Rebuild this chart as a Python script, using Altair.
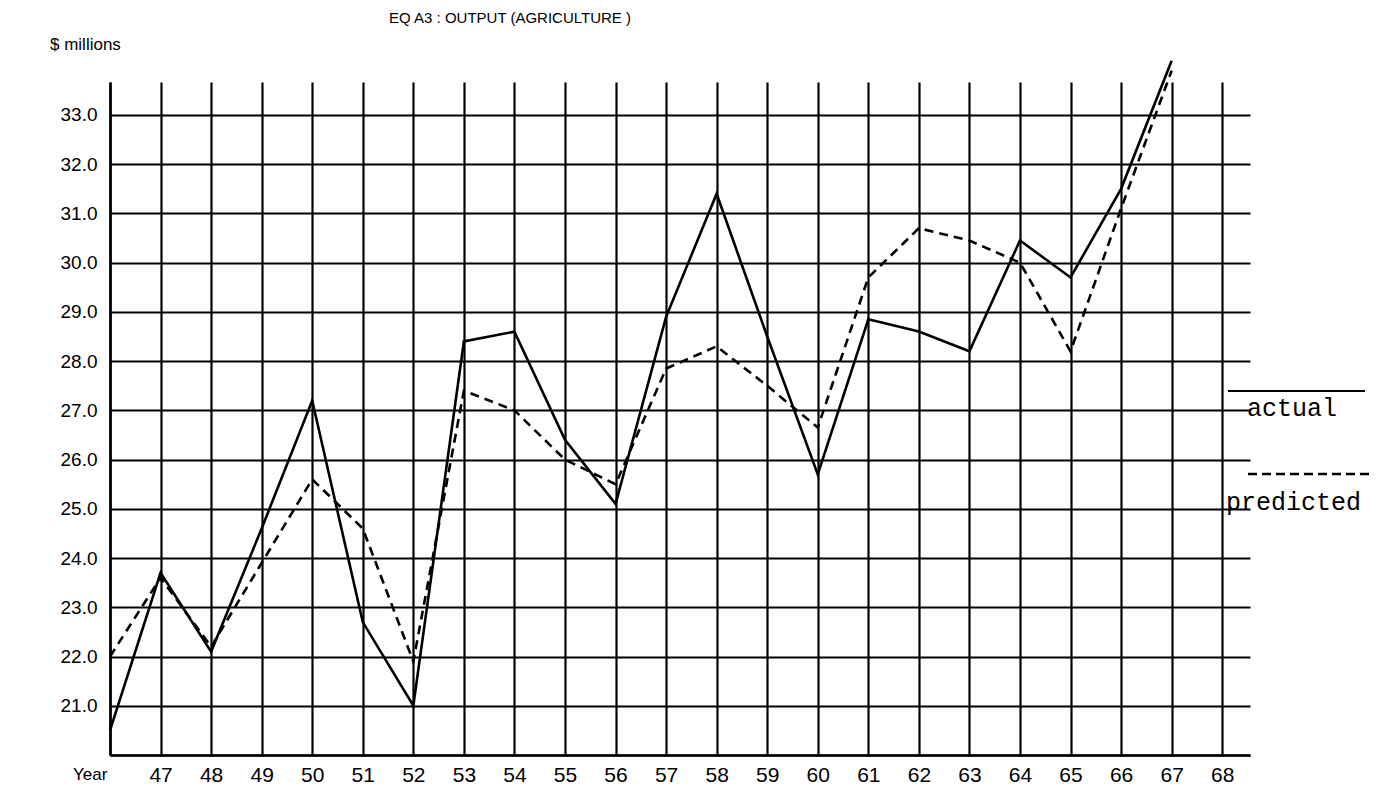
import altair as alt
import pandas as pd

# ---- data ----
years = list(range(46, 68))
actual = [20.5, 23.7, 22.1, 24.6, 27.2, 22.7, 21.0, 28.4, 28.6, 26.4, 25.1,
          28.9, 31.4, 28.5, 25.7, 28.85, 28.6, 28.2, 30.45, 29.7, 31.5, 34.1]
predicted = [22.0, 23.6, 22.2, 23.9, 25.6, 24.6, 21.9, 27.4, 27.0, 26.0, 25.5,
             27.85, 28.3, 27.5, 26.65, 29.7, 30.7, 30.45, 30.0, 28.2, 31.1, 33.9]
x_ticks = list(range(46, 69))
y_ticks = list(range(20, 34))

title_text = "EQ A3 : OUTPUT (AGRICULTURE )"
unit_text = "$ millions"
year_text = "Year"
legend_labels = ["actual", "predicted"]

df_a = pd.DataFrame({"year": years, "value": actual})
df_p = pd.DataFrame({"year": years, "value": predicted})

W, H = 1140, 673
LABEL_FONT = "Liberation Sans"

x_enc = alt.X(
    "year:Q",
    scale=alt.Scale(domain=[46, 68.55], nice=False, zero=False),
    axis=alt.Axis(
        values=x_ticks, grid=True, ticks=False, title=None,
        labelExpr="datum.value == 46 ? '' : format(datum.value, 'd')",
        labelFlush=False, labelPadding=9, labelFontSize=21,
        labelFont=LABEL_FONT, labelColor="black",
        domainColor="black", domainWidth=2.5,
        gridColor="black", gridWidth=2.2, gridOpacity=1,
    ),
)
y_enc = alt.Y(
    "value:Q",
    scale=alt.Scale(domain=[20, 33.67], nice=False, zero=False),
    axis=alt.Axis(
        values=y_ticks, grid=True, ticks=False, title=None,
        labelExpr="datum.value == 20 ? '' : format(datum.value, '.1f')",
        labelFlush=False, labelPadding=13, labelFontSize=19,
        labelFont=LABEL_FONT, labelColor="black",
        domainColor="black", domainWidth=2.5,
        gridColor="black", gridWidth=2, gridOpacity=1,
    ),
)

line_actual = alt.Chart(df_a).mark_line(
    color="black", strokeWidth=2.6
).encode(x=x_enc, y=y_enc)

line_pred = alt.Chart(df_p).mark_line(
    color="black", strokeWidth=2.6, strokeDash=[9, 6]
).encode(x="year:Q", y="value:Q")

one = pd.DataFrame({"a": [0]})

title = alt.Chart(one).mark_text(
    text=title_text, font=LABEL_FONT, fontSize=15, color="black",
    align="center", baseline="middle"
).encode(x=alt.value(400), y=alt.value(-64))

unit = alt.Chart(one).mark_text(
    text=unit_text, font=LABEL_FONT, fontSize=17, color="black",
    align="left", baseline="middle"
).encode(x=alt.value(-60), y=alt.value(-37))

year_lbl = alt.Chart(one).mark_text(
    text=year_text, font=LABEL_FONT, fontSize=17, color="black",
    align="left", baseline="middle"
).encode(x=alt.value(-37), y=alt.value(693))

leg_line_a = alt.Chart(one).mark_rule(color="black", strokeWidth=2).encode(
    x=alt.value(1118), x2=alt.value(1255), y=alt.value(309)
)
leg_line_p = alt.Chart(one).mark_rule(
    color="black", strokeWidth=2.5, strokeDash=[9, 5]
).encode(x=alt.value(1138), x2=alt.value(1260), y=alt.value(392))

leg_text_a = alt.Chart(one).mark_text(
    text=legend_labels[0], font="Liberation Mono", fontSize=25, color="black",
    align="left", baseline="alphabetic"
).encode(x=alt.value(1137), y=alt.value(334))
leg_text_p = alt.Chart(one).mark_text(
    text=legend_labels[1], font="Liberation Mono", fontSize=25, color="black",
    align="left", baseline="alphabetic"
).encode(x=alt.value(1116), y=alt.value(428))

chart = alt.layer(
    line_actual, line_pred, title, unit, year_lbl,
    leg_line_a, leg_line_p, leg_text_a, leg_text_p
).properties(
    width=W, height=H,
    autosize=alt.AutoSizeParams(type="none"),
    padding={"left": 102, "top": 74, "right": 122, "bottom": 35},
    background="white",
).configure_view(stroke=None)

chart.save("out.html", embed_options={"renderer": "svg", "actions": False})
